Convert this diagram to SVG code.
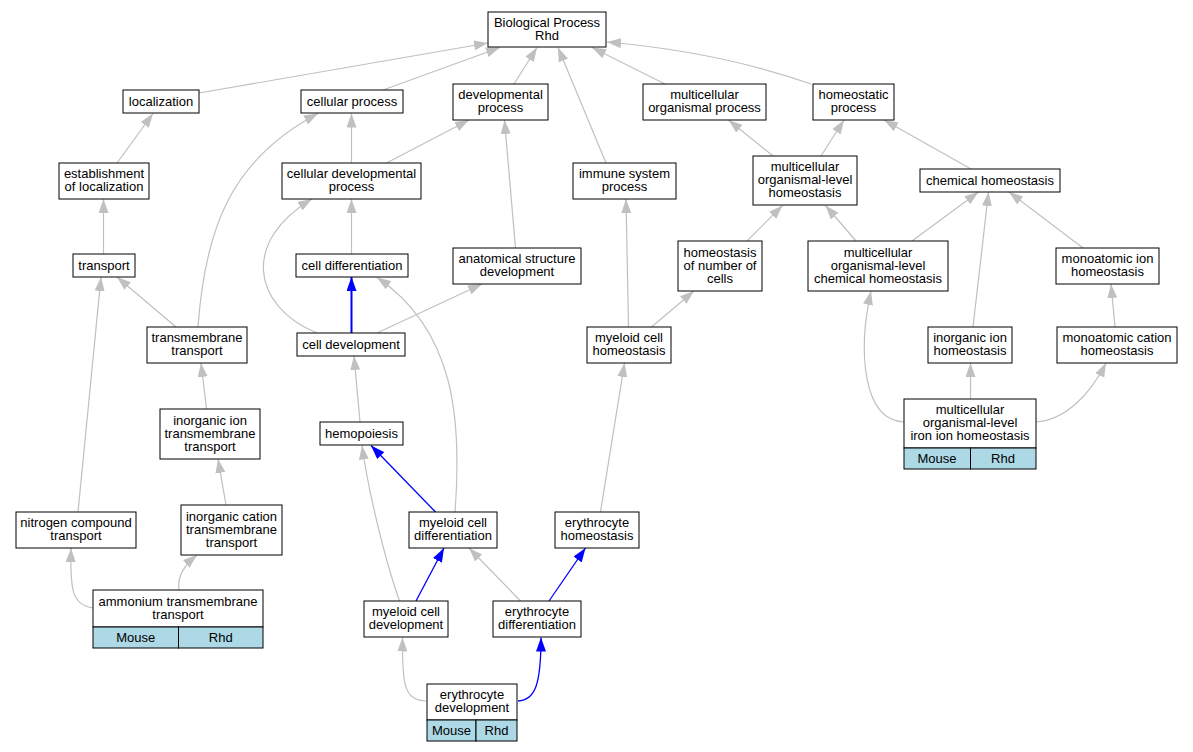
<svg xmlns="http://www.w3.org/2000/svg" width="1193" height="752" viewBox="0 0 1193 752">
<style>
.box{fill:#fff;stroke:#000;stroke-width:1}
.cell{fill:#add8e6;stroke:#000;stroke-width:1}
.t{font-family:"Liberation Sans",Arial,sans-serif;font-size:13px;text-anchor:middle;fill:#000}
.g{fill:none;stroke:#c0c0c0;stroke-width:1.2;marker-end:url(#ag)}
.b{fill:none;stroke:#0000ff;stroke-width:1.3;marker-end:url(#ab)}
.bt{stroke-width:2}
</style>
<defs>
<marker id="ag" markerUnits="userSpaceOnUse" markerWidth="14" markerHeight="10" refX="14" refY="5" orient="auto" viewBox="0 0 14 10"><path d="M0,0 L14,5 L0,10 z" fill="#c0c0c0"/></marker>
<marker id="ab" markerUnits="userSpaceOnUse" markerWidth="14" markerHeight="10" refX="14" refY="5" orient="auto" viewBox="0 0 14 10"><path d="M0,0 L14,5 L0,10 z" fill="#0000ff"/></marker>
</defs>
<rect width="1193" height="752" fill="#fff"/>
<g id="edges">
<path class="g" d="M199,93 L488,43"/>
<path class="g" d="M383,90 L500,47.5"/>
<path class="g" d="M514,84 L537,47.5"/>
<path class="g" d="M606,163 L558,47.5"/>
<path class="g" d="M665,84 L592,47.5"/>
<path class="g" d="M811,84 Q720,52 607,42"/>
<path class="g" d="M117,163 L153,113.5"/>
<path class="g" d="M103.5,254 L103.5,199"/>
<path class="g" d="M351.5,163 L351.5,113.5"/>
<path class="g" d="M386.5,163 L469,120"/>
<path class="g" d="M198,327 C205,230 230,160 318,113.5"/>
<path class="g" d="M351.5,254 L351.5,199"/>
<path class="g" d="M317,333 C250,305 243,240 312,199"/>
<path class="b bt" d="M351.5,333 L351.5,277"/>
<path class="g" d="M377,333 L482,284"/>
<path class="g" d="M515.5,248 L504.5,120"/>
<path class="g" d="M176,327 L117,277"/>
<path class="g" d="M78,512 L101,277"/>
<path class="g" d="M455,512 C462,420 455,330 377,277.5"/>
<path class="g" d="M628.5,327 L626,199"/>
<path class="g" d="M651.5,327 L694,291"/>
<path class="g" d="M773,156 L728.5,120"/>
<path class="g" d="M821,156 L844,120"/>
<path class="g" d="M971,169 L884,120"/>
<path class="g" d="M747,241 L782.5,205.5"/>
<path class="g" d="M856,241 L825.5,205.5"/>
<path class="g" d="M912,241 L978.5,192"/>
<path class="g" d="M973,327 L988.5,192"/>
<path class="g" d="M1083,248 L1009,192"/>
<path class="g" d="M1115,327 L1111,284"/>
<path class="g" d="M904,422 C862,420 858,350 871,291"/>
<path class="g" d="M970.5,399 L970.5,363"/>
<path class="g" d="M1036,422 C1065,420 1090,395 1106,363"/>
<path class="g" d="M206.5,409 L201,363"/>
<path class="g" d="M226,505 L218,459"/>
<path class="g" d="M93,608 C72,605 70,590 71,548"/>
<path class="g" d="M179,590 C177,575 185,565 197,555"/>
<path class="b" d="M435.5,512 L371,445.5"/>
<path class="g" d="M399.5,601 C385,560 368,490 362,445.5"/>
<path class="g" d="M360,422 L354,356"/>
<path class="b" d="M416,601 L444,548"/>
<path class="g" d="M520.5,601 L469,548"/>
<path class="b" d="M549,601 L585.5,548"/>
<path class="g" d="M600.5,512 L624.5,363"/>
<path class="g" d="M426,701 C404,700 402,685 402.5,637.5"/>
<path class="b" d="M518,701 C535,700 541,685 541,637.5"/>
</g>
<g id="n_bio"><rect class="box" x="488" y="12" width="118" height="35"/><text class="t" x="547" y="26.5">Biological Process</text><text class="t" x="547" y="39.5">Rhd</text></g>
<g id="n_localization"><rect class="box" x="123" y="90" width="76" height="23"/><text class="t" x="161" y="105.5">localization</text></g>
<g id="n_cellular_process"><rect class="box" x="301" y="90" width="102" height="23"/><text class="t" x="352" y="105.5">cellular process</text></g>
<g id="n_developmental_process"><rect class="box" x="453" y="84" width="95" height="36"/><text class="t" x="500.5" y="99">developmental</text><text class="t" x="500.5" y="112">process</text></g>
<g id="n_multicellular_organismal_process"><rect class="box" x="643" y="84" width="123" height="36"/><text class="t" x="704.5" y="99">multicellular</text><text class="t" x="704.5" y="112">organismal process</text></g>
<g id="n_homeostatic_process"><rect class="box" x="813" y="84" width="81" height="36"/><text class="t" x="853.5" y="99">homeostatic</text><text class="t" x="853.5" y="112">process</text></g>
<g id="n_establishment"><rect class="box" x="59" y="163" width="90" height="36"/><text class="t" x="104" y="178">establishment</text><text class="t" x="104" y="191">of localization</text></g>
<g id="n_cellular_developmental_process"><rect class="box" x="282" y="163" width="139" height="36"/><text class="t" x="351.5" y="178">cellular developmental</text><text class="t" x="351.5" y="191">process</text></g>
<g id="n_immune_system_process"><rect class="box" x="573" y="163" width="103" height="36"/><text class="t" x="624.5" y="178">immune system</text><text class="t" x="624.5" y="191">process</text></g>
<g id="n_mol_homeostasis"><rect class="box" x="753" y="156" width="104" height="49"/><text class="t" x="805" y="171">multicellular</text><text class="t" x="805" y="184">organismal-level</text><text class="t" x="805" y="197">homeostasis</text></g>
<g id="n_chemical_homeostasis"><rect class="box" x="920" y="169" width="140" height="23"/><text class="t" x="990" y="184.5">chemical homeostasis</text></g>
<g id="n_transport"><rect class="box" x="73" y="254" width="62" height="23"/><text class="t" x="104" y="269.5">transport</text></g>
<g id="n_cell_differentiation"><rect class="box" x="296" y="254" width="112" height="23"/><text class="t" x="352" y="269.5">cell differentiation</text></g>
<g id="n_anatomical_structure_development"><rect class="box" x="453" y="248" width="128" height="36"/><text class="t" x="517" y="263">anatomical structure</text><text class="t" x="517" y="276">development</text></g>
<g id="n_homeostasis_number_cells"><rect class="box" x="678" y="241" width="84" height="50"/><text class="t" x="720" y="256.5">homeostasis</text><text class="t" x="720" y="269.5">of number of</text><text class="t" x="720" y="282.5">cells</text></g>
<g id="n_mol_chemical_homeostasis"><rect class="box" x="808" y="241" width="140" height="50"/><text class="t" x="878" y="256.5">multicellular</text><text class="t" x="878" y="269.5">organismal-level</text><text class="t" x="878" y="282.5">chemical homeostasis</text></g>
<g id="n_monoatomic_ion_homeostasis"><rect class="box" x="1056" y="248" width="103" height="36"/><text class="t" x="1107.5" y="263">monoatomic ion</text><text class="t" x="1107.5" y="276">homeostasis</text></g>
<g id="n_transmembrane_transport"><rect class="box" x="147" y="327" width="100" height="36"/><text class="t" x="197" y="342">transmembrane</text><text class="t" x="197" y="355">transport</text></g>
<g id="n_cell_development"><rect class="box" x="297" y="333" width="108" height="23"/><text class="t" x="351" y="348.5">cell development</text></g>
<g id="n_myeloid_cell_homeostasis"><rect class="box" x="587" y="327" width="84" height="36"/><text class="t" x="629" y="342">myeloid cell</text><text class="t" x="629" y="355">homeostasis</text></g>
<g id="n_inorganic_ion_homeostasis"><rect class="box" x="928" y="327" width="84" height="36"/><text class="t" x="970" y="342">inorganic ion</text><text class="t" x="970" y="355">homeostasis</text></g>
<g id="n_monoatomic_cation_homeostasis"><rect class="box" x="1057" y="327" width="120" height="36"/><text class="t" x="1117" y="342">monoatomic cation</text><text class="t" x="1117" y="355">homeostasis</text></g>
<g id="n_iron_ion_homeostasis"><rect class="box" x="904" y="399" width="132" height="49"/><rect class="cell" x="904" y="448" width="66.5" height="21"/><rect class="cell" x="970.5" y="448" width="65.5" height="21"/><text class="t" x="970" y="414">multicellular</text><text class="t" x="970" y="427">organismal-level</text><text class="t" x="970" y="440">iron ion homeostasis</text><text class="t" x="937" y="462.5">Mouse</text><text class="t" x="1003" y="462.5">Rhd</text></g>
<g id="n_inorganic_ion_transmembrane_transport"><rect class="box" x="160" y="409" width="100" height="50"/><text class="t" x="210" y="424.5">inorganic ion</text><text class="t" x="210" y="437.5">transmembrane</text><text class="t" x="210" y="450.5">transport</text></g>
<g id="n_hemopoiesis"><rect class="box" x="320" y="422" width="83" height="23"/><text class="t" x="361.5" y="437.5">hemopoiesis</text></g>
<g id="n_nitrogen_compound_transport"><rect class="box" x="16" y="512" width="120" height="36"/><text class="t" x="76" y="527">nitrogen compound</text><text class="t" x="76" y="540">transport</text></g>
<g id="n_inorganic_cation_transmembrane_transport"><rect class="box" x="181" y="505" width="101" height="50"/><text class="t" x="231.5" y="520.5">inorganic cation</text><text class="t" x="231.5" y="533.5">transmembrane</text><text class="t" x="231.5" y="546.5">transport</text></g>
<g id="n_myeloid_cell_differentiation"><rect class="box" x="409" y="512" width="88" height="36"/><text class="t" x="453" y="527">myeloid cell</text><text class="t" x="453" y="540">differentiation</text></g>
<g id="n_erythrocyte_homeostasis"><rect class="box" x="555" y="512" width="84" height="36"/><text class="t" x="597" y="527">erythrocyte</text><text class="t" x="597" y="540">homeostasis</text></g>
<g id="n_ammonium_transmembrane_transport"><rect class="box" x="93" y="590" width="170" height="37"/><rect class="cell" x="93" y="627" width="85.5" height="21"/><rect class="cell" x="178.5" y="627" width="84.5" height="21"/><text class="t" x="178" y="605.5">ammonium transmembrane</text><text class="t" x="178" y="618.5">transport</text><text class="t" x="135.75" y="642">Mouse</text><text class="t" x="220.75" y="642">Rhd</text></g>
<g id="n_myeloid_cell_development"><rect class="box" x="364" y="601" width="84" height="36"/><text class="t" x="406" y="616">myeloid cell</text><text class="t" x="406" y="629">development</text></g>
<g id="n_erythrocyte_differentiation"><rect class="box" x="493" y="601" width="88" height="36"/><text class="t" x="537" y="616">erythrocyte</text><text class="t" x="537" y="629">differentiation</text></g>
<g id="n_erythrocyte_development"><rect class="box" x="427" y="684" width="90" height="36"/><rect class="cell" x="427" y="720" width="49" height="21"/><rect class="cell" x="476" y="720" width="41" height="21"/><text class="t" x="472" y="699">erythrocyte</text><text class="t" x="472" y="712">development</text><text class="t" x="451.5" y="735">Mouse</text><text class="t" x="496.5" y="735">Rhd</text></g>
</svg>
